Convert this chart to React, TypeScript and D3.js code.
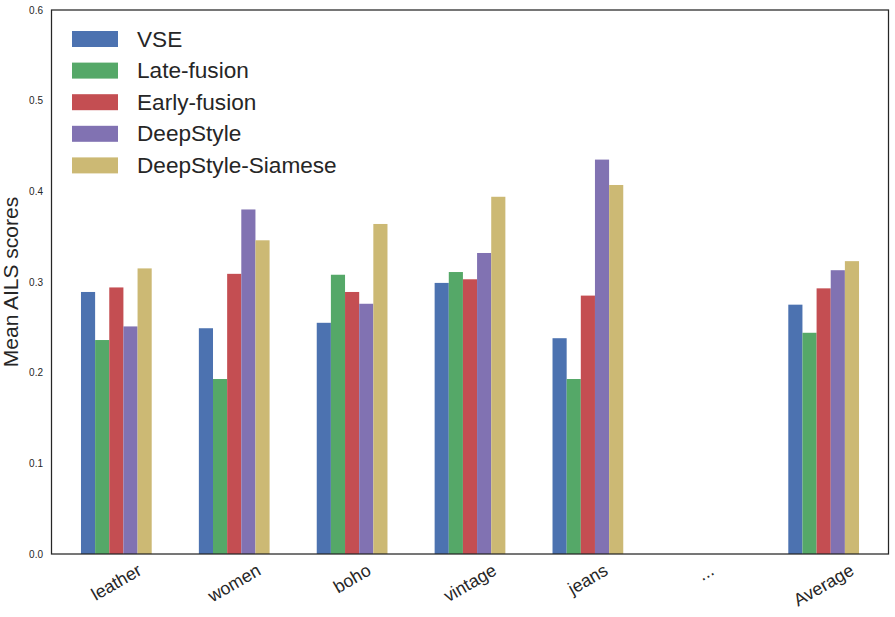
import React, { useEffect, useRef } from "react";
import * as d3 from "d3";

const categories = ["leather", "women", "boho", "vintage", "jeans", "...", "Average"];
const seriesNames = ["VSE", "Late-fusion", "Early-fusion", "DeepStyle", "DeepStyle-Siamese"];
const vse = [0.289, 0.249, 0.255, 0.299, 0.238, null, 0.275];
const lateFusion = [0.236, 0.193, 0.308, 0.311, 0.193, null, 0.244];
const earlyFusion = [0.294, 0.309, 0.289, 0.303, 0.285, null, 0.293];
const deepStyle = [0.251, 0.380, 0.276, 0.332, 0.435, null, 0.313];
const deepStyleSiamese = [0.315, 0.346, 0.364, 0.394, 0.407, null, 0.323];
const yTicks = [0.0, 0.1, 0.2, 0.3, 0.4, 0.5, 0.6];
const colors = ["#4C72B0", "#55A868", "#C44E52", "#8172B2", "#CCB974"];

const W = 895;
const H = 617;
const FONT = "'Liberation Sans', Arial, sans-serif";

export default function App() {
  const ref = useRef<SVGSVGElement | null>(null);

  useEffect(() => {
    const svg = d3.select(ref.current);
    svg.selectAll("*").remove();
    const left = 51.5, right = 888.5, top = 10, bottom = 554;
    const x = d3.scaleLinear().domain([-0.55, 6.55]).range([left, right]);
    const y = d3.scaleLinear().domain([0, 0.6]).range([bottom, top]);
    const all = [vse, lateFusion, earlyFusion, deepStyle, deepStyleSiamese];
    const groupW = 0.6;
    const bw = groupW / all.length;

    const g = svg.append("g");
    all.forEach((vals, j) => {
      g.selectAll(null)
        .data(vals.map((v, i) => ({ v, i })).filter((d) => d.v !== null))
        .enter()
        .append("rect")
        .attr("x", (d) => x(d.i - groupW / 2 + j * bw))
        .attr("width", x(bw) - x(0))
        .attr("y", (d) => y(d.v as number))
        .attr("height", (d) => y(0) - y(d.v as number))
        .attr("fill", colors[j]);
    });

    // frame
    svg.append("rect")
      .attr("x", left).attr("y", top)
      .attr("width", right - left).attr("height", bottom - top)
      .attr("fill", "none").attr("stroke", "#262626").attr("stroke-width", 1.25);

    // y ticks
    svg.selectAll(null).data(yTicks).enter().append("text")
      .attr("x", left - 8.5)
      .attr("y", (d) => y(d))
      .attr("text-anchor", "end")
      .attr("dominant-baseline", "central")
      .attr("font-family", FONT)
      .attr("font-size", 10)
      .attr("fill", "#262626")
      .text((d) => d.toFixed(1));

    // x labels rotated
    const fs = 17.8;
    categories.forEach((c, i) => {
      const t = svg.append("text")
        .attr("font-family", FONT)
        .attr("font-size", fs)
        .attr("fill", "#262626")
        .attr("text-anchor", "middle")
        .attr("dominant-baseline", "central")
        .text(c);
      const w = (t.node() as SVGTextElement).getComputedTextLength();
      const h = fs * 1.0;
      const bh = w * 0.5 + h * 0.866;
      const cx = x(i);
      const cy = 561 + bh / 2;
      t.attr("transform", `translate(${cx},${cy}) rotate(-30)`);
    });

    // y label
    svg.append("text")
      .attr("transform", `translate(${10},${(top + bottom) / 2}) rotate(-90)`)
      .attr("text-anchor", "middle")
      .attr("dominant-baseline", "central")
      .attr("font-family", FONT)
      .attr("font-size", 21)
      .attr("fill", "#262626")
      .text("Mean AILS scores");

    // legend
    seriesNames.forEach((n, j) => {
      const cy = 39 + j * 31.6;
      svg.append("rect")
        .attr("x", 72).attr("y", cy - 8)
        .attr("width", 46).attr("height", 16)
        .attr("fill", colors[j]);
      svg.append("text")
        .attr("x", 137).attr("y", cy)
        .attr("dominant-baseline", "central")
        .attr("font-family", FONT)
        .attr("font-size", 22.6)
        .attr("fill", "#262626")
        .text(n);
    });
  }, []);

  return (
    <svg
      ref={ref}
      width={W}
      height={H}
      style={{ position: "absolute", left: 0, top: 0, background: "#fff" }}
    />
  );
}
